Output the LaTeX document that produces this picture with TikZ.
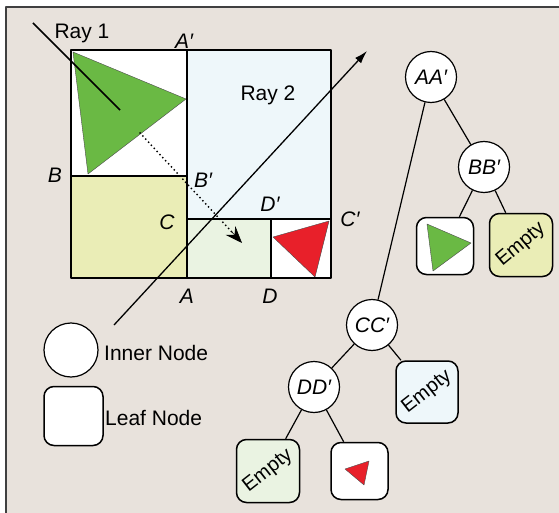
\documentclass[tikz,border=0pt]{standalone}
\usepackage{fontspec}
\setmainfont{Liberation Sans}
\usetikzlibrary{arrows.meta}
\definecolor{bg}{HTML}{E8E2DC}
\definecolor{qyellow}{HTML}{EAEDB6}
\definecolor{qblue}{HTML}{EEF7FA}
\definecolor{qgreen}{HTML}{EAF3E2}
\definecolor{tgreen}{HTML}{6AB944}
\definecolor{tred}{HTML}{E8202A}
\tikzset{
  lbl/.style={inner sep=0pt, font=\fontsize{21}{24}\selectfont\itshape},
  txt/.style={inner sep=0pt, font=\fontsize{21}{24}\selectfont},
  inner/.style={circle, draw, fill=white, line width=1.2pt, minimum size=51pt, inner sep=0pt, font=\fontsize{21}{24}\selectfont\itshape},
  leaf/.style={rectangle, rounded corners=10pt, draw, line width=1.5pt, minimum size=58pt, inner sep=0pt, font=\fontsize{20}{24}\selectfont},
  edge/.style={line width=1.2pt}
}
\begin{document}
\begin{tikzpicture}[x=1pt,y=-1pt,line join=round]
\useasboundingbox (0,0) rectangle (559,513);
\fill[bg] (6,7) rectangle (559,513);
\draw[line width=1.5pt, black!75] (6,513) -- (6,7) -- (559,7);

% quadrants
\fill[white] (71,50) rectangle (187,176);
\fill[qyellow] (71,176) rectangle (187,278);
\fill[qblue] (187,50) rectangle (331,219);
\fill[qgreen] (187,219) rectangle (271,278);
\fill[white] (271,219) rectangle (331,278);
\filldraw[fill=tgreen, draw=black!70, line width=0.4pt] (73,52) -- (186,99) -- (88,174) -- cycle;
\filldraw[fill=tred, draw=black!70, line width=0.4pt] (273,237) -- (329,221) -- (315,277) -- cycle;
\draw[line width=1.2pt] (187,50) -- (187,278);
\draw[line width=1.2pt] (71,176) -- (187,176);
\draw[line width=1.2pt] (187,219) -- (331,219);
\draw[line width=1.2pt] (271,219) -- (271,278);
\draw[line width=2pt] (71,50) rectangle (331,278);

% rays
\coordinate (r1a) at (33,23);
\coordinate (r1b) at (120,110);
\draw[line width=1.5pt] (r1a) -- (r1b);
\coordinate (r2a) at (114,325);
\coordinate (r2b) at (367,51);
\draw[line width=1.3pt, -{Latex[length=13pt,width=8pt]}] (r2a) -- (r2b);
\coordinate (da) at (140,133);
\coordinate (db) at (242,243);
\draw[line width=2pt, line cap=round, dash pattern=on 0pt off 4.2pt, shorten >=12pt] (da) -- (db);
\draw[line width=0.6pt, -{Stealth[length=17pt,width=13pt,inset=6pt]}] (231,231) -- (db);

% labels
\node[txt] (ray1) at (82,33) {Ray 1};
\node[txt] (ray2) at (268,95) {Ray 2};
\node[lbl] (lAp) at (184,41) {A′};
\node[lbl] (lB) at (55,175) {B};
\node[lbl] (lBp) at (203,180) {B′};
\node[lbl] (lC) at (167,222) {C};
\node[lbl] (lDp) at (270,204) {D′};
\node[lbl] (lCp) at (350,219) {C′};
\node[lbl] (lA) at (187,296) {A};
\node[lbl] (lD) at (270,296) {D};

% tree
\node[inner] (AA) at (431,77) {AA′};
\node[inner] (BB) at (484,167) {BB′};
\node[inner] (CC) at (372,325) {CC′};
\node[inner] (DD) at (314,387) {DD′};
\node[leaf, fill=white, minimum size=57pt] (L1) at (445,246) {};
\node[leaf, fill=qyellow, minimum size=63pt] (L2) at (521,245) {\rotatebox{40}{Empty}};
\node[leaf, fill=qblue, minimum size=62pt] (L3) at (427,392) {\rotatebox{38}{Empty}};
\node[leaf, fill=qgreen, minimum size=63pt] (L4) at (268,471) {\rotatebox{38}{Empty}};
\node[leaf, fill=white, minimum size=57pt] (L5) at (359.5,471) {};
\filldraw[fill=tgreen, draw=black!70, line width=0.4pt] (427,224) -- (471,243) -- (433,271) -- cycle;
\filldraw[fill=tred, draw=black!70, line width=0.4pt] (345,469) -- (369,461) -- (364,485) -- cycle;
\draw[edge] (AA) -- (BB);
\draw[edge] (AA) -- (CC);
\draw[edge] (BB) -- (L1);
\draw[edge] (BB) -- (L2);
\draw[edge] (CC) -- (DD);
\draw[edge] (CC) -- (L3);
\draw[edge] (DD) -- (L4);
\draw[edge] (DD) -- (L5);

% legend
\node[inner, minimum size=54pt] (legI) at (71,350) {};
\node[txt, anchor=west] (legIt) at (104,353) {Inner Node};
\node[leaf, fill=white, minimum size=59pt] (legL) at (73.5,416) {};
\node[txt, anchor=west] (legLt) at (105,418) {Leaf Node};
\end{tikzpicture}
\end{document}
